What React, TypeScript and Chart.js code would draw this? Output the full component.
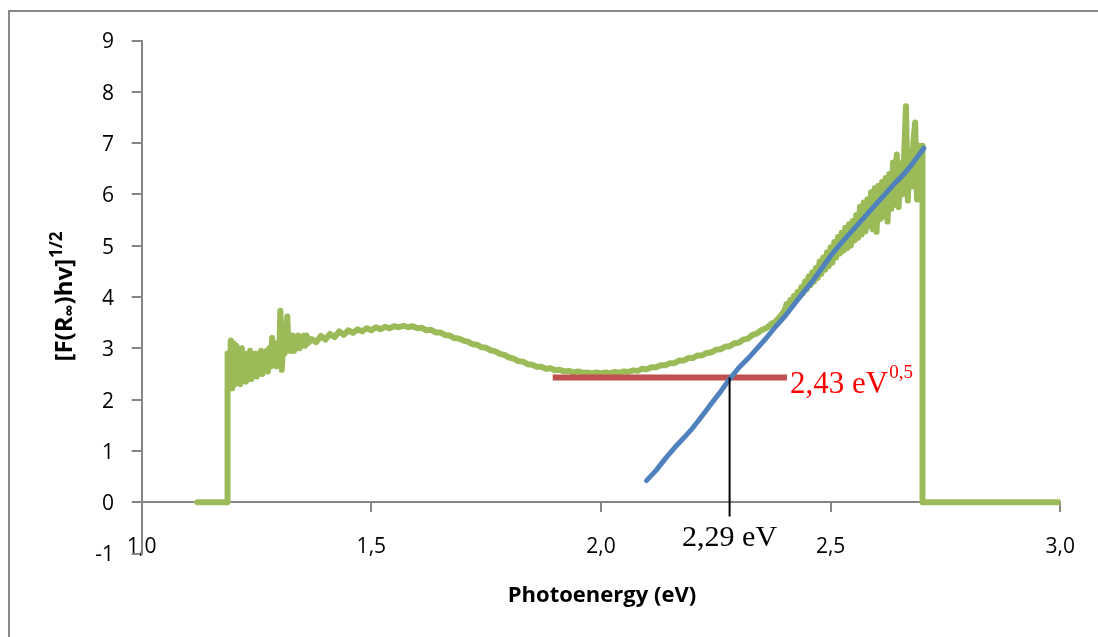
import React, { useEffect, useRef } from 'react';
import { Chart, registerables } from 'chart.js';

Chart.register(...registerables);

// ---------- data (x = photoenergy in eV, y = [F(R∞)hv]^1/2) ----------
const greenFlatLeft: [number, number][] = [[1.121, 0], [1.187, 0], [1.187, 2.9]];

const greenLow: [number, number][] = [
  [1.188, 2.90], [1.191, 2.25], [1.194, 3.15], [1.197, 2.22], [1.200, 3.10], [1.203, 2.30],
  [1.206, 3.05], [1.209, 2.35], [1.212, 2.95], [1.215, 2.30], [1.218, 3.00], [1.221, 2.45],
  [1.224, 2.90], [1.227, 2.35], [1.230, 2.85], [1.233, 2.45], [1.236, 2.95], [1.239, 2.40],
  [1.242, 2.80], [1.245, 2.50], [1.248, 2.90], [1.251, 2.45], [1.254, 2.85], [1.257, 2.55],
  [1.260, 2.95], [1.263, 2.50], [1.266, 2.85], [1.269, 2.60], [1.272, 2.95], [1.275, 2.55],
  [1.278, 3.00], [1.281, 2.65], [1.284, 3.20], [1.287, 2.70], [1.290, 3.10], [1.293, 2.65],
  [1.296, 3.05], [1.299, 2.75], [1.302, 3.73], [1.305, 2.58], [1.308, 3.10], [1.311, 2.90],
  [1.314, 3.30], [1.317, 3.62], [1.320, 2.95], [1.323, 3.20], [1.326, 2.95], [1.329, 3.25],
  [1.332, 2.95], [1.335, 3.20], [1.338, 3.00], [1.341, 3.25], [1.344, 3.00], [1.347, 3.20],
  [1.350, 3.05], [1.353, 3.25], [1.356, 3.05], [1.359, 3.25], [1.362, 3.10],
];

const greenMid: [number, number][] = [
  [1.37, 3.18], [1.38, 3.12], [1.39, 3.24], [1.40, 3.17], [1.41, 3.28], [1.42, 3.22],
  [1.43, 3.33], [1.44, 3.26], [1.45, 3.35], [1.46, 3.30], [1.47, 3.37], [1.48, 3.33],
  [1.49, 3.39], [1.50, 3.35], [1.51, 3.41], [1.52, 3.37], [1.53, 3.42], [1.54, 3.39],
  [1.55, 3.43], [1.56, 3.41], [1.57, 3.44], [1.58, 3.41], [1.59, 3.43], [1.60, 3.39],
  [1.61, 3.40], [1.62, 3.35], [1.63, 3.36], [1.64, 3.31], [1.65, 3.31], [1.66, 3.26],
  [1.67, 3.25], [1.68, 3.20], [1.69, 3.19], [1.70, 3.15], [1.71, 3.13], [1.72, 3.08],
  [1.73, 3.07], [1.74, 3.02], [1.75, 3.01], [1.76, 2.96], [1.77, 2.94], [1.78, 2.89],
  [1.79, 2.87], [1.80, 2.82], [1.81, 2.80], [1.82, 2.75], [1.83, 2.74], [1.84, 2.69],
  [1.85, 2.68], [1.86, 2.64], [1.87, 2.64], [1.88, 2.60], [1.89, 2.61], [1.90, 2.57],
  [1.91, 2.58], [1.92, 2.55], [1.93, 2.56], [1.94, 2.53], [1.95, 2.55], [1.96, 2.52],
  [1.97, 2.53], [1.98, 2.51], [1.99, 2.53], [2.00, 2.51], [2.01, 2.53], [2.02, 2.51],
  [2.03, 2.54], [2.04, 2.52], [2.05, 2.55], [2.06, 2.54], [2.07, 2.57], [2.08, 2.56],
  [2.09, 2.60], [2.10, 2.59], [2.11, 2.63], [2.12, 2.63], [2.13, 2.67], [2.14, 2.67],
  [2.15, 2.71], [2.16, 2.71], [2.17, 2.76], [2.18, 2.76], [2.19, 2.81], [2.20, 2.81],
  [2.21, 2.86], [2.22, 2.86], [2.23, 2.91], [2.24, 2.92], [2.25, 2.97], [2.26, 2.98],
  [2.27, 3.03], [2.28, 3.04], [2.29, 3.10], [2.30, 3.11], [2.31, 3.17], [2.32, 3.19],
  [2.33, 3.26], [2.34, 3.29], [2.35, 3.36], [2.36, 3.39], [2.37, 3.47], [2.38, 3.52],
  [2.39, 3.62],
];

const greenHigh: [number, number][] = [
  [2.400, 3.74], [2.404, 3.86], [2.408, 3.78], [2.412, 3.94], [2.416, 3.86], [2.420, 4.02],
  [2.424, 3.94], [2.428, 4.10], [2.432, 4.00], [2.436, 4.19], [2.440, 4.07], [2.444, 4.30],
  [2.448, 4.15], [2.452, 4.40], [2.456, 4.23], [2.460, 4.48], [2.464, 4.30], [2.468, 4.57],
  [2.472, 4.37], [2.476, 4.69], [2.480, 4.45], [2.484, 4.77], [2.488, 4.53], [2.492, 4.87],
  [2.496, 4.60], [2.500, 4.97], [2.504, 4.67], [2.508, 5.07], [2.512, 4.77], [2.516, 5.17],
  [2.520, 4.85], [2.524, 5.25], [2.528, 4.90], [2.532, 5.35], [2.536, 4.95], [2.540, 5.42],
  [2.544, 5.00], [2.548, 5.48], [2.552, 5.10], [2.556, 5.60], [2.560, 5.15], [2.564, 5.76],
  [2.568, 5.22], [2.572, 5.84], [2.576, 5.28], [2.580, 5.90], [2.584, 5.38], [2.588, 6.04],
  [2.592, 5.32], [2.596, 6.12], [2.600, 5.27], [2.604, 6.17], [2.608, 5.52], [2.612, 6.24],
  [2.616, 5.57], [2.620, 6.32], [2.624, 5.47], [2.628, 6.40], [2.632, 5.72], [2.636, 6.62],
  [2.640, 5.80], [2.644, 6.78], [2.648, 5.75], [2.652, 6.60], [2.656, 6.00], [2.660, 6.75],
  [2.664, 7.72], [2.668, 5.88], [2.672, 6.85], [2.676, 6.15], [2.680, 7.00], [2.684, 7.40],
  [2.688, 5.90], [2.692, 6.95], [2.696, 6.35], [2.700, 6.95],
];

const greenFlatRight: [number, number][] = [[2.700, 0], [3.0, 0]];

const blueFit: [number, number][] = [
  [2.099, 0.42], [2.12, 0.62], [2.14, 0.85], [2.16, 1.06], [2.18, 1.25], [2.20, 1.45],
  [2.22, 1.68], [2.24, 1.92], [2.26, 2.15], [2.28, 2.40], [2.30, 2.62], [2.32, 2.80],
  [2.34, 3.00], [2.36, 3.20], [2.38, 3.42], [2.40, 3.62], [2.42, 3.85], [2.44, 4.08],
  [2.46, 4.30], [2.48, 4.55], [2.50, 4.80], [2.52, 5.02], [2.54, 5.22], [2.56, 5.42],
  [2.58, 5.62], [2.60, 5.82], [2.62, 6.02], [2.64, 6.22], [2.66, 6.40], [2.68, 6.62],
  [2.703, 6.90],
];

const redLevel: [number, number][] = [[1.895, 2.43], [2.405, 2.43]];
const gapMarker: [number, number][] = [[2.28, 2.43], [2.28, -0.28]];

const xTicksMin = 1.0;
const xTicksMax = 3.0;
const xTickStep = 0.5;
const yTicksMin = -1;
const yTicksMax = 9;
const yTickStep = 1;

const xTitle = 'Photoenergy (eV)';
const yTitleParts = ['[F(R', '\u221E', ')hv]', '1/2'];
const levelLabel = '2,43 eV';
const levelLabelSup = '0,5';
const gapLabel = '2,29 eV';
const gapLabelY = -0.86;

const GREEN = '#9BBB59';
const BLUE = '#4F81BD';
const RED = '#C0504D';
const AXIS = '#868686';
const SANS = '"Open Sans", "DejaVu Sans", sans-serif';
const SERIF = '"Liberation Serif", "Times New Roman", serif';

const toXY = (arr: [number, number][]) => arr.map(([x, y]) => ({ x, y }));

const textPlugin = {
  id: 'customText',
  afterDraw(chart: any) {
    const { ctx, chartArea } = chart;
    const xs = chart.scales.x;
    const ys = chart.scales.y;
    ctx.save();
    ctx.textBaseline = 'alphabetic';

    // red level label
    ctx.fillStyle = '#FF0000';
    ctx.font = `31px ${SERIF}`;
    ctx.textAlign = 'left';
    const lx = xs.getPixelForValue(redLevel[1][0]) + 3;
    const ly = ys.getPixelForValue(redLevel[1][1]) + 15;
    ctx.fillText(levelLabel, lx, ly);
    const w1 = ctx.measureText(levelLabel).width;
    ctx.font = `19px ${SERIF}`;
    ctx.fillText(levelLabelSup, lx + w1 + 1, ly - 15);

    // gap label
    ctx.fillStyle = '#000';
    ctx.font = `30px ${SERIF}`;
    ctx.textAlign = 'center';
    ctx.fillText(gapLabel, xs.getPixelForValue(gapMarker[0][0]), ys.getPixelForValue(gapLabelY));

    // x title
    ctx.font = `bold 22px ${SANS}`;
    ctx.textAlign = 'center';
    ctx.fillText(xTitle, (chartArea.left + chartArea.right) / 2 + 1, 602);

    // y title (rotated, with sub/superscripts)
    const segs = [
      { t: yTitleParts[0], size: 24, dy: 0 },
      { t: yTitleParts[1], size: 17, dy: 3 },
      { t: yTitleParts[2], size: 24, dy: 0 },
      { t: yTitleParts[3], size: 17, dy: -10 },
    ];
    let total = 0;
    const widths = segs.map((s) => {
      ctx.font = `bold ${s.size}px ${SANS}`;
      const w = ctx.measureText(s.t).width;
      total += w;
      return w;
    });
    ctx.translate(72, (chartArea.top + chartArea.bottom) / 2);
    ctx.rotate(-Math.PI / 2);
    ctx.textAlign = 'left';
    let cx = -total / 2;
    segs.forEach((s, i) => {
      ctx.font = `bold ${s.size}px ${SANS}`;
      ctx.fillText(s.t, cx, s.dy);
      cx += widths[i] + (i === 2 ? 1 : 0);
    });
    ctx.restore();
  },
};

export default function App() {
  const ref = useRef<HTMLCanvasElement | null>(null);

  useEffect(() => {
    if (!ref.current) return;
    const greenAll = [...greenFlatLeft, ...greenLow, ...greenMid, ...greenHigh, ...greenFlatRight];
    const chart = new Chart(ref.current, {
      type: 'scatter',
      data: {
        datasets: [
          {
            data: toXY(gapMarker), showLine: true, borderColor: '#000', backgroundColor: '#000',
            borderWidth: 2, pointRadius: 0,
          },
          {
            data: toXY(blueFit), showLine: true, borderColor: BLUE, backgroundColor: BLUE,
            borderWidth: 5, pointRadius: 0, borderCapStyle: 'round', borderJoinStyle: 'round',
          },
          {
            data: toXY(redLevel), showLine: true, borderColor: RED, backgroundColor: RED,
            borderWidth: 6, pointRadius: 0, borderCapStyle: 'butt',
          },
          {
            data: toXY(greenAll), showLine: true, borderColor: GREEN, backgroundColor: GREEN,
            borderWidth: 6, pointRadius: 0, borderCapStyle: 'round', borderJoinStyle: 'round',
          },
        ] as any,
      },
      options: {
        responsive: false,
        animation: false,
        devicePixelRatio: 1,
        layout: { padding: { left: 0, top: 40.5, right: 29.5, bottom: 83.5 } },
        plugins: { legend: { display: false }, tooltip: { enabled: false } },
        scales: {
          x: {
            type: 'linear',
            position: { y: 0 } as any,
            min: xTicksMin,
            max: xTicksMax,
            ticks: {
              stepSize: xTickStep,
              callback: (v: any) => Number(v).toFixed(1).replace('.', ','),
              font: { family: SANS, size: 21 },
              color: '#000',
              padding: 23,
              maxRotation: 0,
              autoSkip: false,
            },
            grid: { drawOnChartArea: false, drawTicks: true, tickLength: 9, color: AXIS, lineWidth: 2 },
            border: { display: true, color: AXIS, width: 2 },
          },
          y: {
            type: 'linear',
            position: 'left',
            min: yTicksMin,
            max: yTicksMax,
            afterFit: (s: any) => { s.width = 141.7; },
            ticks: {
              stepSize: yTickStep,
              font: { family: SANS, size: 21 },
              color: '#000',
              padding: 17.7,
              labelOffset: 2,
            },
            grid: { drawOnChartArea: false, drawTicks: true, tickLength: 10, color: AXIS, lineWidth: 2 },
            border: { display: true, color: AXIS, width: 2 },
          },
        },
      } as any,
      plugins: [textPlugin],
    });
    return () => chart.destroy();
  }, []);

  return (
    <div style={{ position: 'fixed', left: 0, top: 0, width: 1098, height: 637, background: '#fff', overflow: 'hidden' }}>
      <div style={{ position: 'absolute', left: 8, top: 10, right: 0, bottom: 0, borderTop: '2px solid #898989', borderLeft: '2px solid #898989' }} />
      <canvas ref={ref} width={1098} height={637} style={{ position: 'absolute', left: 0, top: 0 }} />
    </div>
  );
}
